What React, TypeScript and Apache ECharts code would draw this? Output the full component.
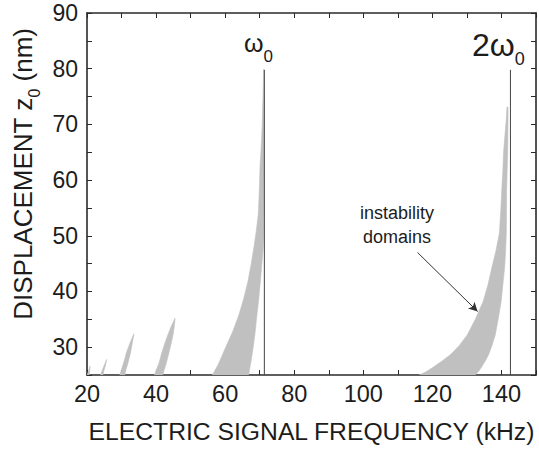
import React, { useEffect, useRef } from "react";
import * as echarts from "echarts";

// ---- data ----
const xRange = [20, 150];
const yRange = [25, 90];

// instability tongues: left and right edges, [frequency kHz, displacement nm]
const tongue20Left = [[20.0, 25], [20.5, 25.8], [20.9, 26.6]];
const tongue20Right = [[20.6, 25], [20.8, 25.8], [20.9, 26.6]];
const tongue24Left = [[23.9, 25], [24.4, 25.8], [24.9, 26.6], [25.7, 27.8]];
const tongue24Right = [[24.6, 25], [24.9, 25.8], [25.3, 26.6], [25.7, 27.8]];
const tongue30Left = [[29.5, 25], [30.0, 26], [30.5, 27], [31.0, 28], [31.4, 29], [32.0, 30], [32.6, 31], [33.6, 32.4]];
const tongue30Right = [[30.9, 25], [31.3, 26], [31.8, 27], [32.2, 28], [32.6, 29], [32.9, 30], [33.2, 31], [33.6, 32.4]];
const tongue40Left = [[39.5, 25], [40.1, 26], [40.8, 27], [41.3, 28.2], [41.9, 29.5], [42.7, 31], [43.6, 32.5], [44.5, 33.9], [45.5, 35.2]];
const tongue40Right = [[41.9, 25], [42.4, 26], [42.9, 27], [43.4, 28.2], [43.9, 29.5], [44.5, 31], [45.0, 32.5], [45.3, 33.9], [45.5, 35.2]];
const tongueW0Left = [[56.3, 25], [58.0, 26.9], [60.1, 29.9], [62.2, 32.8], [64.0, 35.8], [65.4, 38.8], [66.6, 41.8], [67.5, 44.8], [68.3, 47.8], [69.0, 50.8], [69.6, 53.9], [69.9, 58.2], [70.1, 62.5], [70.45, 66.0], [70.7, 69.6], [70.95, 74.8], [71.15, 79.9]];
const tongueW0Right = [[66.8, 25], [67.5, 27.5], [68.1, 29.9], [68.7, 32.8], [69.2, 35.8], [69.75, 38.8], [70.2, 41.8], [70.6, 44.8], [71.0, 47.8], [71.15, 50.8], [71.2, 53.9], [71.25, 62.5], [71.25, 69.6], [71.2, 74.8], [71.15, 79.9]];
const tongue2W0Left = [[116.2, 25], [118.2, 25.6], [120.0, 26.3], [122.8, 27.5], [125.3, 28.7], [127.8, 30.3], [130.1, 32.2], [132.5, 35.1], [134.7, 38.2], [136.1, 41.2], [137.2, 44.2], [138.4, 47.3], [139.4, 50.5], [139.8, 54.4], [140.1, 58.3], [140.4, 61.6], [140.6, 64.9], [141.0, 68.0], [141.4, 71], [141.6, 73.1]];
const tongue2W0Right = [[132.4, 25], [133.3, 25.6], [134.1, 26.3], [135.3, 27.5], [136.3, 28.7], [137.3, 30.4], [138.2, 32.2], [139.1, 35.2], [139.9, 38.2], [140.4, 41.2], [140.9, 44.2], [141.2, 47.3], [141.4, 50.5], [141.5, 58.3], [141.8, 64.9], [141.9, 71], [141.9, 73.1]];

const tongues = [
  { left: tongue20Left, right: tongue20Right },
  { left: tongue24Left, right: tongue24Right },
  { left: tongue30Left, right: tongue30Right },
  { left: tongue40Left, right: tongue40Right },
  { left: tongueW0Left, right: tongueW0Right },
  { left: tongue2W0Left, right: tongue2W0Right },
];

const omega0Line = [[71.35, 25], [71.35, 79.8]];
const twoOmega0Line = [[142.6, 25], [142.6, 79.8]];
const arrowStart = [115.7, 47.0];
const arrowEnd = [133.1, 36.4];

const xTitle = "ELECTRIC SIGNAL FREQUENCY (kHz)";

const FONT = '"Liberation Sans", Arial, Helvetica, sans-serif';
const INK = "#1c1c1c";
const AXIS = "#2a2a2a";
const FILL = "#c0c0c0";

export default function App() {
  const ref = useRef<HTMLDivElement>(null);

  useEffect(() => {
    if (!ref.current) return;
    const chart = echarts.init(ref.current, undefined, { renderer: "svg" });

    const axisLine = { show: true, onZero: false, lineStyle: { color: AXIS, width: 1.6 } };
    const tick = (len: number) => ({ show: true, inside: true, length: len, lineStyle: { color: AXIS, width: 1 } });

    const option: any = {
      animation: false,
      backgroundColor: "#fff",
      grid: { left: 87, top: 13, right: 1, bottom: 76, containLabel: false },
      xAxis: [
        {
          type: "value",
          min: xRange[0],
          max: xRange[1],
          interval: 10,
          position: "bottom",
          axisLine,
          axisTick: tick(5),
          axisLabel: {
            formatter: (v: number) => (v % 20 === 0 && v < 150 ? String(v) : ""),
            fontSize: 23.5,
            color: INK,
            fontFamily: FONT,
            margin: 7,
            showMaxLabel: true,
            showMinLabel: true,
          },
          splitLine: { show: false },
          name: xTitle,
          nameLocation: "middle",
          nameGap: 44,
          nameTextStyle: { fontSize: 24.7, color: INK, fontFamily: FONT },
        },
        {
          type: "value",
          min: xRange[0],
          max: xRange[1],
          interval: 10,
          position: "top",
          axisLine,
          axisTick: tick(5),
          axisLabel: { show: false },
          splitLine: { show: false },
        },
      ],
      yAxis: [
        {
          type: "value",
          min: yRange[0],
          max: yRange[1],
          interval: 5,
          position: "left",
          axisLine,
          axisTick: tick(5),
          axisLabel: {
            formatter: (v: number) => (v % 10 === 0 ? String(v) : ""),
            fontSize: 23,
            color: INK,
            fontFamily: FONT,
            margin: 9,
            showMaxLabel: true,
          },
          splitLine: { show: false },
        },
        {
          type: "value",
          min: yRange[0],
          max: yRange[1],
          interval: 5,
          position: "right",
          axisLine,
          axisTick: tick(5),
          axisLabel: { show: false },
          splitLine: { show: false },
        },
      ],
      series: [
        {
          type: "custom",
          name: "instability domains",
          xAxisIndex: 0,
          yAxisIndex: 0,
          clip: true,
          silent: true,
          encode: { x: 0, y: 1 },
          data: tongues.map((t) => [t.left[0][0], t.left[0][1]]),
          renderItem: (params: any, api: any) => {
            const t = tongues[params.dataIndex];
            const pts = [...t.left, ...t.right.slice().reverse()].map((p) => api.coord(p));
            return {
              type: "polygon",
              shape: { points: pts },
              style: { fill: FILL, stroke: FILL, lineWidth: 0.6 },
            };
          },
        },
        {
          type: "line",
          name: "omega0",
          data: omega0Line,
          symbol: "none",
          silent: true,
          lineStyle: { color: "#444", width: 1 },
          markLine: {
            silent: true,
            symbol: ["none", "arrow"],
            symbolSize: [7, 9],
            label: { show: false },
            lineStyle: { color: "#333", width: 1, type: "solid" },
            data: [[{ coord: arrowStart }, { coord: arrowEnd }]],
          },
        },
        {
          type: "line",
          name: "2omega0",
          data: twoOmega0Line,
          symbol: "none",
          silent: true,
          lineStyle: { color: "#444", width: 1 },
        },
      ],
      graphic: [
        {
          type: "text",
          x: 23,
          y: 174,
          rotation: Math.PI / 2,
          style: {
            text: "{a|DISPLACEMENT z}{s|0}{a| (nm)}",
            align: "center",
            verticalAlign: "middle",
            fill: INK,
            rich: {
              a: { fontSize: 26, fontFamily: FONT, fill: INK, lineHeight: 30 },
              s: { fontSize: 16, fontFamily: FONT, fill: INK, lineHeight: 16, padding: [22, 0, 0, 0] },
            },
          },
        },
        {
          type: "text",
          x: 244,
          y: 43,
          style: {
            text: "{w|ω}{s|0}",
            align: "left",
            verticalAlign: "middle",
            fill: INK,
            rich: {
              w: { fontSize: 25, fontFamily: FONT, fill: INK, lineHeight: 28 },
              s: { fontSize: 17, fontFamily: FONT, fill: INK, lineHeight: 17, padding: [26, 0, 0, 0] },
            },
          },
        },
        {
          type: "text",
          x: 472,
          y: 45,
          style: {
            text: "{w|2ω}{s|0}",
            align: "left",
            verticalAlign: "middle",
            fill: INK,
            rich: {
              w: { fontSize: 32, fontFamily: FONT, fill: INK, lineHeight: 34 },
              s: { fontSize: 18, fontFamily: FONT, fill: INK, lineHeight: 18, padding: [28, 0, 0, 0] },
            },
          },
        },
        {
          type: "text",
          x: 397,
          y: 225,
          style: {
            text: "instability\ndomains",
            align: "center",
            verticalAlign: "middle",
            fontSize: 18,
            lineHeight: 24,
            fontFamily: FONT,
            fill: INK,
          },
        },
      ],
    };

    chart.setOption(option);
    return () => chart.dispose();
  }, []);

  return (
    <div
      ref={ref}
      style={{ position: "fixed", left: 0, top: 0, width: 539, height: 451, background: "#fff" }}
    />
  );
}
